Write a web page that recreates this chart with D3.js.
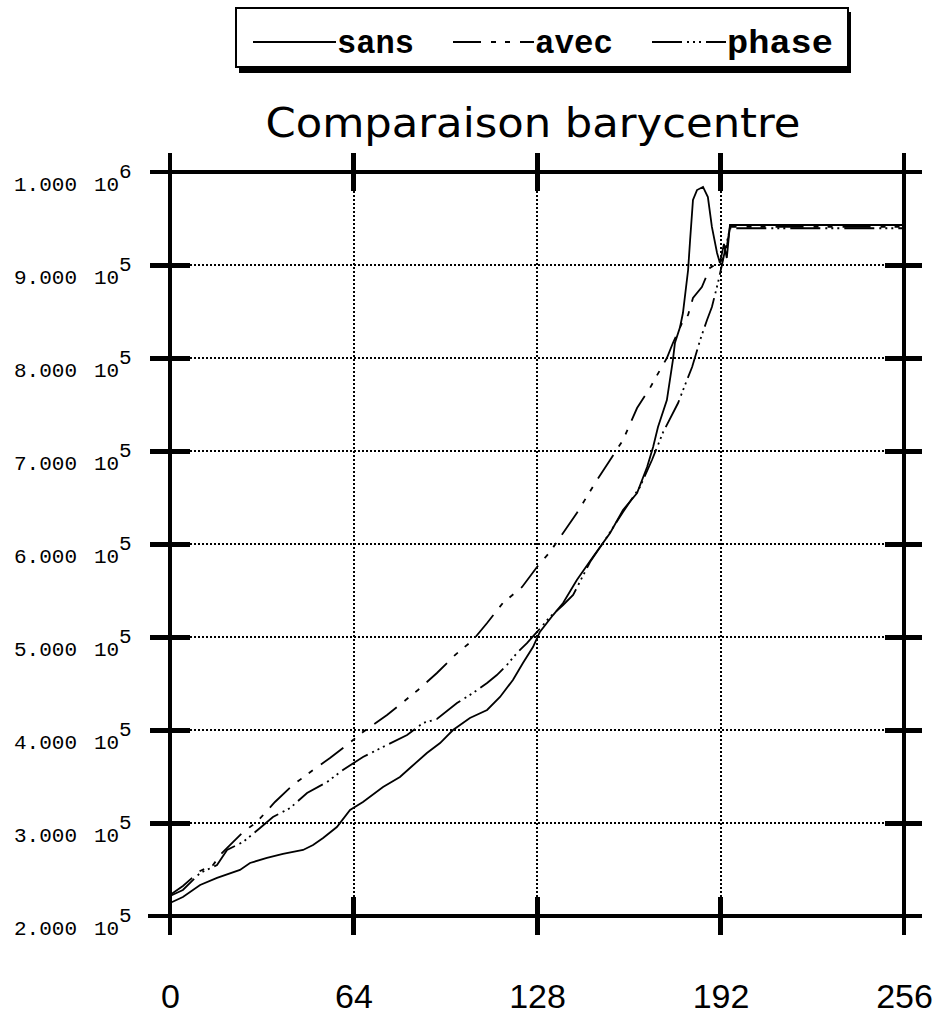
<!DOCTYPE html>
<html>
<head>
<meta charset="utf-8">
<script src="https://cdn.jsdelivr.net/npm/d3@7"></script>
<style>
  html, body { margin: 0; padding: 0; background: #fff; }
  svg { display: block; }
</style>
</head>
<body>
<svg id="chart" width="938" height="1017"></svg>
<script>
// ---------- data ----------
const title = "Comparaison barycentre";
const seriesNames = ["sans", "avec", "phase"];

const sansX = [0, 4.5, 10.5, 16.4, 24.4, 27.9, 33.8, 39.4, 46.4, 49.9, 53.4, 58.2, 62.8, 67.3, 74.3, 80.2, 83.7, 89.6, 94.2, 98.7, 104.6, 110.6, 115.1, 119.6, 123.1, 126.6, 129.0, 133.6, 137.1, 141.9, 147.5, 153.5, 158.0, 162.9, 166.4, 168.5, 170.2, 173.3, 175.4, 176.1, 177.9, 178.9, 180.7, 181.4, 182.4, 183.8, 185.9, 187.6, 189.0, 190.8, 191.8, 193.2, 194.2, 195.3, 256];
const sansY = [214000, 220400, 233300, 240900, 249500, 257000, 262400, 266700, 271000, 276300, 283900, 295700, 314000, 322600, 338700, 349500, 359100, 375300, 386000, 400000, 412900, 421500, 435500, 453800, 472000, 489200, 505400, 523600, 536600, 561300, 586000, 611800, 636600, 654800, 682800, 704300, 725800, 754800, 797800, 816100, 833300, 848400, 894600, 926900, 969900, 980600, 983900, 973100, 940900, 912900, 902100, 922600, 907500, 943000, 943000];

const avecX = [0, 4.5, 10.5, 15.0, 18.1, 20.9, 25.5, 30.3, 36.6, 42.9, 49.9, 55.8, 61.7, 67.3, 75.7, 86.5, 93.1, 99.4, 105.7, 110.6, 116.1, 122.8, 128.0, 132.5, 137.1, 141.9, 148.9, 153.5, 158.0, 162.9, 167.4, 170.9, 173.3, 175.4, 178.6, 180.7, 182.4, 185.5, 188.3, 191.1, 192.5, 194.3, 195.3, 256];
const avecY = [222600, 232300, 248400, 254800, 267700, 276300, 290300, 301100, 322600, 340900, 357000, 369900, 383900, 397800, 416100, 443000, 461300, 480600, 496800, 515100, 536600, 553800, 575300, 591400, 611800, 633300, 668800, 690300, 711800, 746200, 767700, 787100, 800000, 816100, 837600, 846300, 864500, 876300, 896800, 902100, 903200, 921500, 941000, 941000];

const phaseX = [0, 4.5, 10.5, 16.4, 19.9, 25.5, 31.4, 35.9, 41.9, 47.8, 54.8, 60.3, 67.3, 75.7, 82.7, 88.2, 93.1, 100.1, 105.7, 110.6, 114.0, 117.5, 121.0, 124.5, 128.0, 132.5, 137.1, 140.6, 146.5, 152.4, 158.0, 163.9, 168.1, 172.0, 177.2, 180.3, 182.1, 184.9, 187.3, 189.0, 191.1, 192.5, 193.6, 195.3, 256];
const phaseY = [221500, 228000, 246200, 254800, 271000, 279600, 294600, 306500, 316100, 332300, 344100, 357000, 371000, 383900, 394600, 407500, 411800, 429000, 439800, 450500, 459100, 469900, 482800, 493500, 505400, 521500, 534400, 545200, 580600, 607500, 634400, 661300, 690300, 720400, 751600, 776300, 790300, 819400, 840900, 854800, 880700, 900000, 916100, 939500, 939500];

const xTicks = [0, 64, 128, 192, 256];
const yTicks = [200000, 300000, 400000, 500000, 600000, 700000, 800000, 900000, 1000000];

// ---------- layout ----------
const svg = d3.select("#chart");
const x = d3.scaleLinear().domain([0, 256]).range([170, 904]);
const y = d3.scaleLinear().domain([200000, 1000000]).range([916, 172]);

const styles = {
  sans:  { dash: null },
  avec:  { dash: "28,10,5,9,5,10" },
  phase: { dash: "30,5,2,4,2,4,2,5" }
};

// ---------- grid ----------
const grid = svg.append("g").attr("shape-rendering", "crispEdges");
grid.selectAll("line.vg").data(xTicks.slice(1, -1)).join("line")
  .attr("x1", d => Math.round(x(d))).attr("x2", d => Math.round(x(d)))
  .attr("y1", 191).attr("y2", 897)
  .attr("stroke", "#000").attr("stroke-width", 2).attr("stroke-dasharray", "2,2");
grid.selectAll("line.hg").data(yTicks.slice(1, -1)).join("line")
  .attr("x1", 190).attr("x2", 886)
  .attr("y1", d => Math.round(y(d))).attr("y2", d => Math.round(y(d)))
  .attr("stroke", "#000").attr("stroke-width", 2).attr("stroke-dasharray", "2,2");

// ---------- curves ----------
const line = d3.line().x(d => x(d[0])).y(d => y(d[1]));
const seriesData = {
  sans: d3.zip(sansX, sansY),
  avec: d3.zip(avecX, avecY),
  phase: d3.zip(phaseX, phaseY)
};
const curves = svg.append("g");
seriesNames.forEach(name => {
  curves.append("path")
    .datum(seriesData[name])
    .attr("d", line)
    .attr("fill", "none")
    .attr("stroke", "#000")
    .attr("stroke-width", 1.8)
    .attr("stroke-dasharray", styles[name].dash);
});

// ---------- frame & ticks ----------
const frame = svg.append("g").attr("shape-rendering", "crispEdges").attr("stroke", "#000");
[0, 256].forEach(v => {
  frame.append("line").attr("x1", x(v)).attr("x2", x(v)).attr("y1", 153).attr("y2", 935).attr("stroke-width", 4);
});
frame.append("line").attr("x1", 150).attr("x2", 922).attr("y1", y(1000000)).attr("y2", y(1000000)).attr("stroke-width", 4);
frame.append("line").attr("x1", 148).attr("x2", 922).attr("y1", y(200000)).attr("y2", y(200000)).attr("stroke-width", 4);
xTicks.slice(1, -1).forEach(v => {
  frame.append("line").attr("x1", x(v)).attr("x2", x(v)).attr("y1", 153).attr("y2", 191).attr("stroke-width", 5);
  frame.append("line").attr("x1", x(v)).attr("x2", x(v)).attr("y1", 897).attr("y2", 935).attr("stroke-width", 5);
});
yTicks.slice(1, -1).forEach(v => {
  frame.append("line").attr("x1", 150).attr("x2", 190).attr("y1", y(v)).attr("y2", y(v)).attr("stroke-width", 5);
  frame.append("line").attr("x1", 885).attr("x2", 922).attr("y1", y(v)).attr("y2", y(v)).attr("stroke-width", 5);
});

// ---------- x axis labels ----------
const xAxis = d3.axisBottom(x).tickValues(xTicks).tickSize(0).tickPadding(0).tickFormat(d3.format("d"));
const gx = svg.append("g").attr("transform", "translate(0,1008)").call(xAxis);
gx.select(".domain").remove();
gx.selectAll("text")
  .attr("y", 0).attr("dy", null)
  .attr("font-family", "'Liberation Sans', Arial, sans-serif")
  .attr("font-size", 34)
  .attr("fill", "#000");

// ---------- y axis labels ----------
const yAxis = d3.axisLeft(y).tickValues(yTicks).tickSize(0).tickPadding(0);
const gy = svg.append("g").call(yAxis);
gy.select(".domain").remove();
gy.selectAll(".tick text").each(function(d) {
  const exp = Math.floor(Math.log10(d) + 1e-9);
  const mant = (d / Math.pow(10, exp)).toFixed(3);
  const t = d3.select(this);
  t.text(null)
    .attr("x", 14).attr("y", 18).attr("dy", null)
    .attr("text-anchor", "start")
    .attr("font-family", "'Liberation Mono', 'DejaVu Sans Mono', monospace")
    .attr("font-size", 21)
    .attr("fill", "#000");
  t.append("tspan").text(mant);
  t.append("tspan").attr("x", 94).text("10");
  t.append("tspan").attr("x", 119).attr("dy", -13).text(exp);
});

// ---------- title ----------
svg.append("text")
  .attr("x", 533).attr("y", 137)
  .attr("text-anchor", "middle")
  .attr("font-family", "'DejaVu Sans', Verdana, sans-serif")
  .attr("font-size", 40)
  .attr("textLength", 535).attr("lengthAdjust", "spacingAndGlyphs")
  .text(title);

// ---------- legend ----------
const legend = svg.append("g");
legend.append("rect").attr("x", 239).attr("y", 12).attr("width", 612).attr("height", 61).attr("fill", "#000");
legend.append("rect").attr("x", 236).attr("y", 8).attr("width", 612).attr("height", 59)
  .attr("fill", "#fff").attr("stroke", "#000").attr("stroke-width", 2).attr("shape-rendering", "crispEdges");
const legendItems = [
  { name: "sans",  x0: 253, x1: 336, tx: 337, tw: 77 },
  { name: "avec",  x0: 453, x1: 534, tx: 535, tw: 78 },
  { name: "phase", x0: 652, x1: 726, tx: 727, tw: 106 }
];
legendItems.forEach(it => {
  legend.append("line").attr("x1", it.x0).attr("x2", it.x1).attr("y1", 42).attr("y2", 42)
    .attr("stroke", "#000").attr("stroke-width", 2).attr("shape-rendering", "crispEdges")
    .attr("stroke-dasharray", styles[it.name].dash);
  legend.append("text").attr("x", it.tx).attr("y", 53)
    .attr("font-family", "'Liberation Mono', 'DejaVu Sans Mono', monospace")
    .attr("font-weight", "bold").attr("font-size", 33)
    .attr("textLength", it.tw).attr("lengthAdjust", "spacingAndGlyphs")
    .text(it.name);
});
</script>
</body>
</html>
